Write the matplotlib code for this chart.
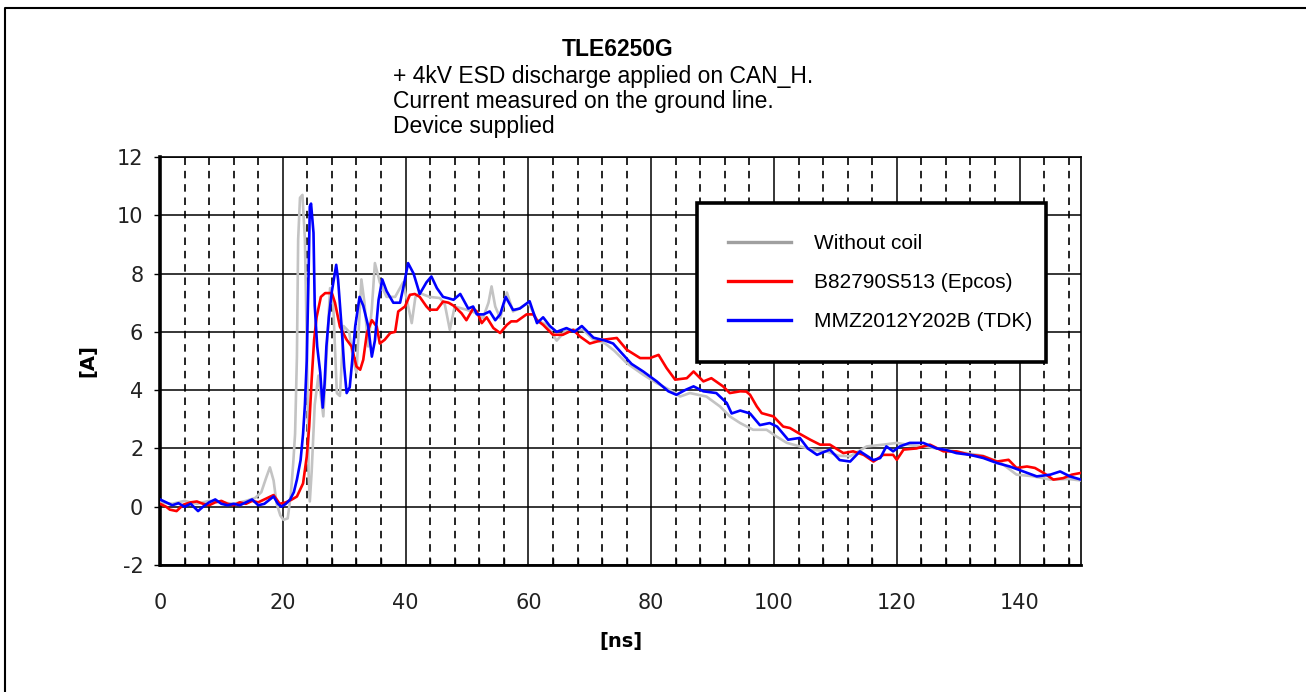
import matplotlib
matplotlib.use("Agg")
import matplotlib.pyplot as plt
from matplotlib.lines import Line2D
import numpy as np

plt.rcParams["axes.unicode_minus"] = False

# ---- measured current traces: time [ns] and current [A] ----
t_nocoil = [0, 2, 4, 6, 8, 10, 12, 14, 15.5, 16.5, 17.3, 17.9, 18.5, 19.0, 19.6, 20.1, 20.8,
            21.3, 21.7, 22.0, 22.3, 22.5, 22.8, 23.2, 23.6, 23.9, 24.2, 24.4, 24.7, 25.2,
            25.8, 26.6, 27.2, 27.7, 28.2, 28.8, 29.3, 29.9, 30.8, 31.5, 32.0, 32.8, 33.3,
            33.9, 34.5, 35.0, 35.8, 36.9, 38.3, 39.6, 40.3, 41.0, 41.6, 42.3, 43.9, 45.6,
            46.4, 47.2, 48.0, 49.9, 51.6, 52.6, 53.5, 54.0, 54.6, 55.4, 56.5, 57.5, 58.5,
            60.0, 61.4, 63.0, 64.6, 66.2, 68.9, 70.5, 72.5, 74.0, 76.0, 78.7, 80.9, 83.1,
            84.7, 86.3, 89.0, 91.2, 92.8, 94.5, 96.6, 98.8, 100.4, 102.1, 104.2, 106.5,
            108.5, 110.5, 112.4, 115.1, 117.8, 120.0, 122.5, 125.0, 128.0, 131.0, 134.0,
            137.0, 139.5, 142.0, 145.0, 148.0, 150.0]
i_nocoil = [0.15, 0.1, 0.2, 0.1, 0.2, 0.15, 0.1, 0.2, 0.3, 0.5, 1.0, 1.35, 0.9, 0.1, -0.3,
            -0.45, -0.4, 0.4, 1.5, 2.5, 5.15, 9.16, 10.6, 10.7, 9.16, 5.73, 1.16, 0.18, 1.2,
            3.5, 4.5, 3.1, 5.5, 7.5, 7.0, 3.9, 3.8, 6.2, 6.0, 5.0, 4.6, 7.8, 7.0, 5.5, 6.8,
            8.36, 7.7, 7.2, 7.2, 7.7, 7.0, 6.3, 7.2, 7.33, 7.2, 7.16, 6.93, 6.07, 6.87, 6.76,
            6.64, 6.47, 7.0, 7.56, 6.87, 6.47, 7.35, 6.7, 6.8, 7.0, 6.4, 6.24, 5.7, 6.07,
            6.07, 5.75, 5.6, 5.35, 4.93, 4.53, 4.24, 4.0, 3.78, 3.9, 3.78, 3.44, 3.1, 2.87,
            2.64, 2.64, 2.41, 2.19, 2.07, 1.95, 1.9, 1.75, 1.73, 2.07, 2.13, 2.19, 2.1, 2.05,
            1.95, 1.85, 1.75, 1.5, 1.1, 1.05, 0.93, 0.95, 0.9]

t_epcos = [0, 1, 1.6, 2.7, 3.8, 5, 6, 7, 8, 9, 10, 11, 12, 13, 14, 15, 16, 17, 18.5, 19.5,
           20.5, 21.5, 22.3, 23.3, 23.9, 24.3, 24.7, 25.1, 25.5, 26.2, 26.9, 28.0, 28.5,
           29.3, 30.4, 31.2, 32.0, 32.6, 33.1, 33.7, 34.5, 35.3, 35.8, 36.6, 37.5, 38.3,
           38.8, 39.9, 40.7, 41.5, 42.3, 43.4, 43.9, 45.1, 46.1, 47.0, 47.8, 49.1, 49.9,
           51.0, 51.6, 52.4, 53.2, 54.3, 55.4, 56.5, 57.2, 58.1, 59.7, 60.8, 61.4, 62.4,
           64.0, 65.6, 67.3, 68.4, 70.0, 72.2, 74.4, 76.0, 78.2, 79.8, 81.2, 82.5, 83.9,
           85.8, 86.9, 88.5, 89.8, 91.7, 92.8, 94.5, 95.5, 96.1, 97.2, 98.0, 99.9, 101.5,
           102.6, 104.2, 105.9, 107.5, 109.1, 111.3, 112.9, 114.6, 116.2, 117.8, 119.4,
           120.0, 121.1, 123.2, 125.4, 127.6, 129.7, 131.9, 134.1, 136.3, 138.2, 139.5,
           141.2, 142.5, 143.9, 145.5, 147.1, 148.5, 150.0]
i_epcos = [0.1, 0.0, -0.1, -0.15, 0.07, 0.15, 0.18, 0.1, 0.05, 0.15, 0.2, 0.1, 0.05, 0.15,
           0.1, 0.2, 0.15, 0.25, 0.4, 0.1, 0.15, 0.25, 0.35, 0.8, 1.72, 2.75, 4.36, 5.73,
           6.5, 7.2, 7.33, 7.33, 7.0, 6.18, 5.73, 5.5, 4.81, 4.7, 5.04, 5.96, 6.4, 6.18,
           5.6, 5.73, 5.96, 6.0, 6.7, 6.87, 7.27, 7.3, 7.2, 6.87, 6.76, 6.76, 7.04, 7.0,
           6.9, 6.64, 6.4, 6.8, 6.7, 6.3, 6.5, 6.13, 5.96, 6.24, 6.36, 6.36, 6.6, 6.6, 6.4,
           6.24, 5.9, 5.9, 6.07, 5.84, 5.6, 5.73, 5.79, 5.39, 5.1, 5.1, 5.21, 4.76, 4.36,
           4.41, 4.64, 4.3, 4.41, 4.13, 3.9, 3.96, 3.95, 3.84, 3.44, 3.21, 3.1, 2.75, 2.7,
           2.5, 2.3, 2.13, 2.13, 1.84, 1.9, 1.78, 1.55, 1.78, 1.78, 1.61, 1.96, 2.0, 2.13,
           1.9, 1.9, 1.78, 1.73, 1.55, 1.61, 1.33, 1.38, 1.33, 1.16, 0.93, 0.98, 1.1, 1.16]

t_tdk = [0, 1, 2, 3, 4, 5, 6.2, 7, 8, 9, 10, 11, 12, 13, 14, 15, 16, 17, 18.5, 19.2, 19.8,
         20.5, 21.2, 21.8, 22.3, 22.9, 23.3, 23.6, 23.9, 24.2, 24.4, 24.6, 25.0, 25.2,
         25.6, 26.1, 26.5, 26.8, 27.1, 27.5, 28.0, 28.7, 29.0, 29.6, 30.0, 30.4, 30.9,
         31.3, 31.8, 32.5, 33.1, 33.9, 34.5, 35.0, 35.6, 36.2, 36.9, 38.0, 39.1, 39.9,
         40.4, 41.3, 42.3, 43.4, 44.2, 45.1, 46.1, 47.0, 47.8, 48.9, 50.2, 51.0, 51.6,
         52.7, 53.7, 54.6, 55.4, 56.3, 57.5, 58.6, 60.2, 61.4, 62.4, 63.5, 64.6, 66.2,
         67.5, 68.7, 70.6, 72.5, 73.8, 75.2, 76.8, 78.7, 80.9, 82.8, 84.1, 85.5, 86.9,
         88.5, 90.6, 92.3, 93.1, 94.5, 96.1, 97.7, 99.3, 100.5, 102.3, 104.2, 105.5,
         107.0, 109.1, 110.7, 112.4, 114.0, 116.2, 117.3, 118.3, 119.4, 120.5, 122.1,
         124.3, 126.5, 128.0, 129.7, 131.9, 134.1, 136.3, 138.4, 140.6, 142.8, 145.0,
         146.6, 148.2, 150.0]
i_tdk = [0.25, 0.15, 0.05, 0.12, 0.0, 0.1, -0.15, 0.0, 0.15, 0.25, 0.1, 0.05, 0.1, 0.05,
         0.15, 0.25, 0.05, 0.1, 0.35, 0.1, 0.0, 0.1, 0.25, 0.5, 0.93, 1.6, 2.5, 3.5, 5.0,
         8.0, 10.3, 10.4, 9.4, 6.9, 5.5, 4.6, 3.4, 4.2, 5.5, 6.5, 7.4, 8.3, 7.8, 6.1, 4.8,
         3.9, 4.1, 5.0, 6.2, 7.2, 6.9, 6.2, 5.15, 5.7, 7.1, 7.8, 7.4, 7.0, 7.0, 7.8, 8.36,
         8.0, 7.3, 7.7, 7.9, 7.5, 7.2, 7.15, 7.1, 7.3, 6.8, 6.87, 6.6, 6.6, 6.7, 6.4, 6.6,
         7.2, 6.75, 6.8, 7.05, 6.3, 6.5, 6.2, 6.0, 6.13, 6.0, 6.2, 5.8, 5.7, 5.6, 5.27,
         4.9, 4.64, 4.3, 3.96, 3.84, 4.0, 4.13, 3.96, 3.9, 3.56, 3.2, 3.3, 3.2, 2.8, 2.87,
         2.75, 2.3, 2.36, 2.0, 1.78, 1.96, 1.6, 1.55, 1.9, 1.6, 1.67, 2.07, 1.9, 2.07,
         2.19, 2.19, 2.0, 1.95, 1.84, 1.78, 1.67, 1.5, 1.38, 1.21, 1.04, 1.1, 1.21, 1.04,
         0.93]

labels = ["Without coil", "B82790S513 (Epcos)", "MMZ2012Y202B (TDK)"]
x_ticks = [0, 20, 40, 60, 80, 100, 120, 140]
y_ticks = [-2, 0, 2, 4, 6, 8, 10, 12]

W, H = 1306, 692
fig = plt.figure(figsize=(W / 100, H / 100), dpi=100)
fig.patch.set_facecolor("white")

ax = fig.add_axes([160 / W, 1 - 565 / H, (1081 - 160) / W, (565 - 157) / H])
ax.set_xlim(0, 150)
ax.set_ylim(-2, 12)

# grid: solid major lines, dashed minor verticals every 4 ns
for yv in y_ticks:
    ax.axhline(yv, color="black", lw=1.1, zorder=1)
for xv in x_ticks:
    ax.axvline(xv, color="black", lw=1.1, zorder=1)
for xv in np.arange(4, 150, 4):
    if xv % 20:
        ax.axvline(xv, color="black", lw=1.2, ls=(0, (4.5, 3.5)), zorder=1)

lw = 1.9
ax.plot(t_nocoil, i_nocoil, color="#c3c3c3", lw=lw, zorder=3)
ax.plot(t_epcos, i_epcos, color="#ff0000", lw=lw, zorder=4)
ax.plot(t_tdk, i_tdk, color="#0000ff", lw=lw, zorder=5)

ax.set_xticks(x_ticks)
ax.set_yticks(y_ticks)
ax.set_xticks(np.arange(0, 151, 4), minor=True)
ax.tick_params(axis="x", which="both", direction="in", length=5, width=1,
               labelsize=15, pad=20, colors="black", labelcolor="#222222")
ax.tick_params(axis="y", which="major", direction="out", length=4, width=1,
               labelsize=15, pad=8, labelcolor="#222222")
ax.tick_params(axis="x", which="major", length=0)
for lab in ax.get_xticklabels() + ax.get_yticklabels():
    lab.set_family("DejaVu Sans")

for side in ["top", "right", "bottom"]:
    ax.spines[side].set_linewidth(1.2)
ax.spines["left"].set_linewidth(2.6)
ax.spines["bottom"].set_linewidth(2.0)

ax.set_xlabel("[ns]", fontsize=14, fontweight="bold", labelpad=14, family="DejaVu Sans")
ax.set_ylabel("[A]", fontsize=14, fontweight="bold", labelpad=14, family="DejaVu Sans")

handles = [Line2D([], [], color="#a0a0a0", lw=2.4),
           Line2D([], [], color="#ff0000", lw=2.4),
           Line2D([], [], color="#0000ff", lw=2.4)]
leg = ax.legend(handles, labels, loc="upper left", mode="expand",
                bbox_to_anchor=(697 / W, 1 - 362 / H, 349 / W, 159 / H),
                bbox_transform=fig.transFigure,
                prop={"family": "Liberation Sans", "size": 15},
                frameon=True, fancybox=False, shadow=False, framealpha=1,
                borderpad=1.5, labelspacing=0.95, handlelength=3.0,
                handletextpad=1.1, borderaxespad=0)
leg.get_frame().set_edgecolor("black")
leg.get_frame().set_linewidth(2.6)
leg.set_zorder(10)

# titles
fig.text(618 / W, 1 - 50 / H, "TLE6250G", ha="center", va="center",
         fontsize=16.5, fontweight="bold", family="Liberation Sans")
sub = ["+ 4kV ESD discharge applied on CAN_H.",
       "Current measured on the ground line.",
       "Device supplied"]
for k, s in enumerate(sub):
    fig.text(393 / W, 1 - (77 + 24.5 * k) / H, s, ha="left", va="center",
             fontsize=16.5, family="Liberation Sans")

# outer frame (left and top edges)
fig.add_artist(Line2D([5 / W, 5 / W, 1.0], [0.0, 1 - 8 / H, 1 - 8 / H],
                      transform=fig.transFigure, color="black", lw=1.5))

fig.savefig("out.png", dpi=100)
